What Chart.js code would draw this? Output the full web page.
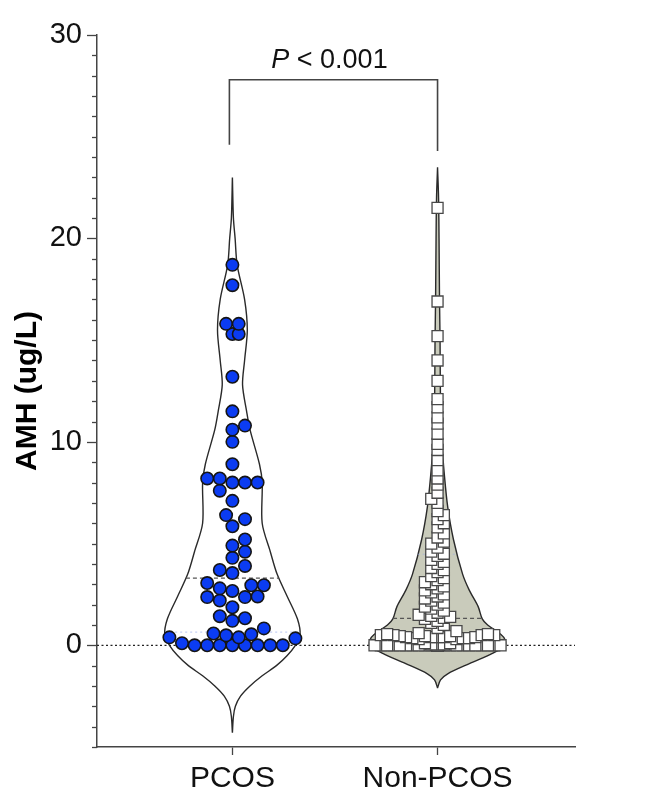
<!DOCTYPE html>
<html>
<head>
<meta charset="utf-8">
<script src="https://cdn.jsdelivr.net/npm/chart.js@4.4.1/dist/chart.umd.min.js"></script>
<style>
  html, body { margin: 0; padding: 0; background: #fff; }
</style>
</head>
<body>
<canvas id="chart" width="650" height="799"></canvas>
<script>
// values
const categories = ['PCOS', 'Non-PCOS'];
const pcosValues = [
  18.7, 17.7, 15.8, 15.8, 15.3, 15.3, 13.2, 11.5, 10.8, 10.6, 10.0, 8.9,
  8.2, 8.0, 8.0, 8.2, 8.0, 7.6, 7.1, 6.4, 6.2, 5.85, 5.2, 4.9, 4.6, 4.3,
  3.9, 3.7, 3.55, 3.06, 2.95, 2.8, 2.95, 2.67, 2.37, 2.4, 1.87, 2.2, 2.37,
  1.33, 1.43, 1.2, 0.83, 0.49, 0.39, 0.39, 0.34, 0.58, 0.54,
  0, 0.1, 0, 0, 0, 0, 0, 0, 0
];
const nonPcosValues = [
  21.5, 16.9, 15.2, 14.0, 13.0, 12.1,
  11.7, 11.2, 10.9, 10.4, 9.9, 9.6, 9.1, 8.6, 8.2,
  7.9, 7.5, 7.2, 7.0, 6.6, 6.4, 6.2, 6.0, 5.8, 5.5, 5.3, 5.1, 5.0,
  4.8, 4.6, 4.5, 4.4, 4.2, 4.1, 4.0, 3.8, 3.7, 3.6, 3.4, 3.3, 3.2, 3.1,
  3.0, 2.9, 2.8, 2.7, 2.6, 2.5, 2.4, 2.3, 2.2, 2.1, 2.0, 1.9, 1.8, 1.7,
  1.6, 1.5, 1.45, 1.4, 1.35, 1.3,
  1.2, 1.1, 1.0, 0.85, 0.7,
  0.6, 0.55, 0.55, 0.5, 0.5, 0.5, 0.5, 0.45, 0.45, 0.45, 0.4, 0.4, 0.4,
  0.4, 0.4, 0.35, 0.35, 0.35, 0.3, 0.3,
  0.1, 0.1, 0.05, 0.05, 0.05,
  0, 0, 0, 0, 0, 0, 0, 0, 0, 0, 0, 0, 0, 0, 0,
  0, 0, 0, 0, 0, 0, 0, 0, 0, 0, 0, 0, 0, 0, 0
];
// violin density profiles (relative width in %, at AMH levels)
const pcosLevels  = [-4.3, -3.5, -3, -2.5, -2, -1.5, -1, -0.5, 0, 0.5, 1.3, 2.4, 3.5, 4.6, 6, 8, 8.9, 10.6, 11.5, 12.8, 14, 15.5, 17, 18.7, 20, 21, 23];
const pcosDensity = [0, 1.5, 4.4, 12, 26, 44, 65, 81, 93, 100, 96, 81, 66, 56, 44, 44, 40, 26, 21, 15, 18, 22, 18, 7, 4, 1.5, 0];
const nonPcosLevels  = [-2.1, -1.7, -1.4, -0.9, -0.4, 0, 0.35, 0.6, 1.0, 1.3, 1.9, 2.7, 3.5, 5.2, 6.8, 8.4, 9.9, 12, 15, 17, 20, 22, 23.5];
const nonPcosDensity = [0, 4.4, 15, 47, 81, 100, 98.5, 91, 74, 66, 60, 47, 37, 23.5, 15, 10, 6.6, 4.4, 3.7, 2.9, 2.2, 1.5, 0];

const yTickLabels = [0, 10, 20, 30];
const pValueText = '< 0.001';
const bracketFeet = [24.6, 24.3];
const bracketTop = 27.8;

const groups = [pcosValues, nonPcosValues];
const profiles = [[pcosLevels, pcosDensity], [nonPcosLevels, nonPcosDensity]];
const FONT = "'Liberation Sans', Arial, Helvetica, sans-serif";
const MAX_HALF = 0.33;       // widest part of a violin, in x units
const PT = 12.6;             // marker size in px
const MIN_GAP = [0.95, 0.5]; // how close markers may get, share of PT

function quantile(vals, q) {
  const s = [...vals].sort((a, b) => a - b);
  const pos = (s.length - 1) * q, lo = Math.floor(pos);
  const hi = Math.min(lo + 1, s.length - 1);
  return s[lo] + (s[hi] - s[lo]) * (pos - lo);
}

const violins = profiles.map(([levels, dens], i) => {
  const width = y => {
    if (y <= levels[0] || y >= levels[levels.length - 1]) return 0;
    let k = 1;
    while (levels[k] < y) k++;
    const t = (y - levels[k - 1]) / (levels[k] - levels[k - 1]);
    return MAX_HALF * (dens[k - 1] + (dens[k] - dens[k - 1]) * t) / 100;
  };
  const c = i + 1;
  const outline = levels.map((y, k) => ({ x: c + MAX_HALF * dens[k] / 100, y }))
    .concat(levels.slice().reverse().map((y, k) => ({ x: c - MAX_HALF * dens[levels.length - 1 - k] / 100, y })));
  return { width, outline };
});

function levelLine(i, v) {
  const w = violins[i].width(v);
  return [{ x: i + 1 - w, y: v }, { x: i + 1 + w, y: v }];
}

const datasets = [];
// violins
datasets.push({
  data: violins[0].outline, showLine: true, pointRadius: 0, tension: 0.3,
  borderColor: '#2a2a2a', borderWidth: 1.4, fill: 'shape',
  backgroundColor: 'rgba(255,255,255,0)', order: 5
});
datasets.push({
  data: violins[1].outline, showLine: true, pointRadius: 0, tension: 0.3,
  borderColor: '#2a2a2a', borderWidth: 1.4, fill: 'shape',
  backgroundColor: '#c9cbbb', order: 5
});
// medians and quartiles
groups.forEach((vals, i) => {
  datasets.push({
    data: levelLine(i, quantile(vals, 0.5)), showLine: true, pointRadius: 0,
    borderColor: '#555', borderWidth: 1.2, borderDash: [4, 3], order: 4
  });
  [0.25, 0.75].forEach(q => datasets.push({
    data: levelLine(i, quantile(vals, q)), showLine: true, pointRadius: 0,
    borderColor: 'rgba(150,170,235,0.55)', borderWidth: 1.2, borderDash: [2, 3], order: 4
  }));
});
// points (positions filled in after layout)
const pointIdx = [datasets.length, datasets.length + 1];
datasets.push({
  data: [], pointStyle: 'circle', pointRadius: 6.2,
  backgroundColor: '#0b3cf2', borderColor: '#151515', borderWidth: 1.6, order: 1
});
datasets.push({
  data: [], pointStyle: 'rect', pointRadius: 7.8,
  backgroundColor: '#ffffff', borderColor: '#484848', borderWidth: 1.3, order: 1
});

const axisPlugin = {
  id: 'axisExtras',
  beforeDatasetsDraw(chart) {
    const { ctx, chartArea, scales: { y } } = chart;
    const y0 = y.getPixelForValue(0);
    ctx.save();
    ctx.strokeStyle = '#222';
    ctx.lineWidth = 1.3;
    ctx.setLineDash([2, 2.5]);
    ctx.beginPath();
    ctx.moveTo(chartArea.left, y0);
    ctx.lineTo(chartArea.right, y0);
    ctx.stroke();
    ctx.restore();
  },
  afterDraw(chart) {
    const { ctx, chartArea, scales: { y } } = chart;
    ctx.save();
    ctx.strokeStyle = '#444';
    ctx.lineWidth = 1.3;
    for (let v = Math.ceil(y.min); v <= y.max; v++) {
      const py = Math.round(y.getPixelForValue(v)) + 0.5;
      const len = v % 10 === 0 ? 10 : 5;
      ctx.beginPath();
      ctx.moveTo(chartArea.left - len, py);
      ctx.lineTo(chartArea.left, py);
      ctx.stroke();
    }
    ctx.restore();
  }
};

const bracketPlugin = {
  id: 'bracket',
  afterDatasetsDraw(chart) {
    const { ctx, scales: { x, y } } = chart;
    const x1 = x.getPixelForValue(1) - 3, x2 = x.getPixelForValue(2);
    const yt = y.getPixelForValue(bracketTop);
    ctx.save();
    ctx.strokeStyle = '#444';
    ctx.lineWidth = 1.6;
    ctx.beginPath();
    ctx.moveTo(x1, y.getPixelForValue(bracketFeet[0]));
    ctx.lineTo(x1, yt);
    ctx.lineTo(x2, yt);
    ctx.lineTo(x2, y.getPixelForValue(bracketFeet[1]));
    ctx.stroke();
    ctx.fillStyle = '#111';
    ctx.textBaseline = 'alphabetic';
    ctx.font = 'italic 27px ' + FONT;
    const wP = ctx.measureText('P').width;
    ctx.font = '27px ' + FONT;
    const rest = ' ' + pValueText;
    const wR = ctx.measureText(rest).width;
    const start = (x1 + x2) / 2 - (wP + wR) / 2 - 4;
    ctx.font = 'italic 27px ' + FONT;
    ctx.fillText('P', start, yt - 12);
    ctx.font = '27px ' + FONT;
    ctx.fillText(rest, start + wP, yt - 12);
    ctx.restore();
  }
};

const chart = new Chart(document.getElementById('chart'), {
  type: 'scatter',
  data: { datasets },
  plugins: [axisPlugin, bracketPlugin],
  options: {
    responsive: false,
    animation: false,
    layout: { padding: { left: 0, right: 75, top: 35, bottom: 0 } },
    plugins: { legend: { display: false }, tooltip: { enabled: false } },
    scales: {
      x: {
        type: 'linear', min: 0.34, max: 2.67,
        afterBuildTicks: s => { s.ticks = categories.map((c, i) => ({ value: i + 1 })); },
        afterFit: s => { s.height = 52; },
        ticks: {
          callback: v => categories[v - 1],
          font: { family: FONT, size: 30 }, color: '#111', padding: 6
        },
        grid: { drawOnChartArea: false, drawTicks: true, tickLength: 8, tickColor: '#444', tickWidth: 1.3 },
        border: { color: '#444', width: 1.5 }
      },
      y: {
        min: -5, max: 30,
        afterBuildTicks: s => { s.ticks = yTickLabels.map(v => ({ value: v })); },
        afterFit: s => { s.width = 97; },
        ticks: { font: { family: FONT, size: 29 }, color: '#111', padding: 15 },
        grid: { drawOnChartArea: false, drawTicks: false },
        border: { color: '#444', width: 1.5 },
        title: {
          display: true, text: 'AMH (ug/L)', color: '#000',
          font: { family: FONT, size: 30, weight: 'bold' }, padding: { top: 10, bottom: 0 }
        }
      }
    }
  }
});

// beeswarm placement of the points inside each violin
function layoutSwarm() {
  const xs = chart.scales.x, ys = chart.scales.y;
  const pxX = xs.width / (xs.max - xs.min);
  const pxY = ys.height / (ys.max - ys.min);
  groups.forEach((vals, i) => {
    const placed = [];
    const sorted = [...vals].sort((a, b) => a - b);
    const minDist = PT * MIN_GAP[i], step = PT / 2;
    sorted.forEach((val, n) => {
      const py = val * pxY;
      const lim = Math.max(0, violins[i].width(val) * pxX - 3);
      let best = 0, bestD = -1;
      outer:
      for (let k = 0; k * step <= lim + 0.01; k++) {
        const signs = k === 0 ? [1] : (n % 2 ? [1, -1] : [-1, 1]);
        for (const sg of signs) {
          const px = sg * k * step;
          let d = Infinity;
          for (const p of placed) {
            const dd = Math.hypot(p.px - px, p.py - py);
            if (dd < d) d = dd;
          }
          if (d >= minDist) { best = px; break outer; }
          if (d > bestD) { bestD = d; best = px; }
        }
      }
      placed.push({ px: best, py, val });
    });
    chart.data.datasets[pointIdx[i]].data = placed.map(p => ({ x: i + 1 + p.px / pxX, y: p.val }));
  });
  chart.update('none');
}
layoutSwarm();
</script>
</body>
</html>
